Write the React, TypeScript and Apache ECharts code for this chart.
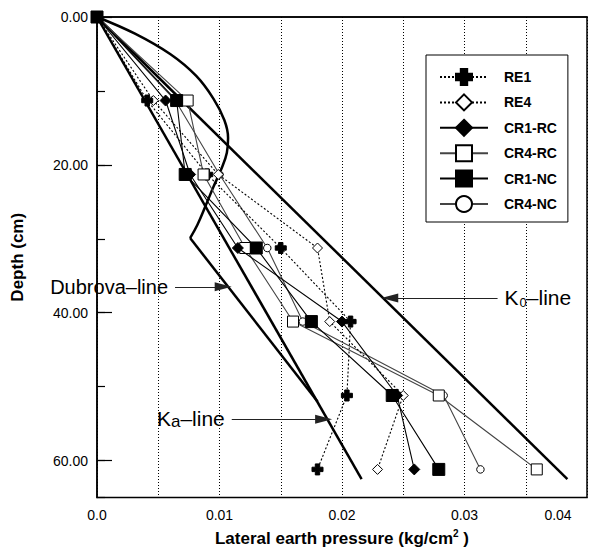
import React, { useEffect, useRef } from 'react';
import * as echarts from 'echarts';

// ---- data ----
const depths = [0, 11.3, 21.3, 31.25, 41.2, 51.2, 61.2];
const re1 = [0, 0.0041, 0.009, 0.015, 0.0207, 0.0204, 0.018];
const re4 = [0, 0.0046, 0.0099, 0.018, 0.019, 0.025, 0.0229];
const cr1rc = [0, 0.0056, 0.0076, 0.0115, 0.02, 0.0245, 0.0259];
const cr4rc = [0, 0.0074, 0.0087, 0.0121, 0.016, 0.0279, 0.0359];
const cr1nc = [0, 0.0065, 0.0072, 0.013, 0.0175, 0.0241, 0.0279];
const cr4nc = [0, 0.0064, 0.01, 0.0139, 0.0168, 0.0283, 0.0313];

const k0LineX = [0, 0.0384];
const k0LineY = [0, 62.5];
const kaLineX = [0, 0.0216];
const kaLineY = [0, 62.5];
const dubCurveX = [0, 0.0031, 0.006, 0.0081, 0.0095, 0.0104, 0.0107, 0.0106, 0.0102, 0.0095, 0.0089, 0.0082, 0.0076];
const dubCurveY = [0, 2.26, 5.05, 7.98, 11.04, 13.96, 16.36, 18.35, 20.35, 23.0, 25.4, 28.1, 29.9];
const dubStraightX = [0.0076, 0.018];
const dubStraightY = [29.9, 52.0];

const xTickLabels = ['0.0', '0.01', '0.02', '0.03', '0.04'];
const yTickLabels = ['0.00', '20.00', '40.00', '60.00'];

// annotation arrows [xStart, xEnd, depth]
const dubArrow = [0.00637, 0.0103, 36.5];
const k0Arrow = [0.0327, 0.0239, 38.0];
const kaArrow = [0.011, 0.0185, 54.4];

const FONT = 'Liberation Sans, Arial, Helvetica, sans-serif';
const PLUS = 'path://M3,0 H7 V3 H10 V7 H7 V10 H3 V7 H0 V3 H3 Z';

const zip = (xs: number[], ys: number[]) => xs.map((x, i) => [x, ys[i]]);

export default function App() {
  const ref = useRef<HTMLDivElement>(null);
  useEffect(() => {
    if (!ref.current) return;
    const chart = echarts.init(ref.current, null, { renderer: 'svg' });

    const refLine = (data: number[][], smooth: number | boolean = false) => ({
      type: 'line',
      data,
      showSymbol: false,
      symbol: 'none',
      smooth,
      clip: false,
      silent: true,
      lineStyle: { color: '#000', width: 2.5 },
      z: 1,
    });

    const dataSeries = (
      name: string,
      vals: number[],
      symbol: string,
      size: number,
      fill: string,
      lineType: any,
      lineColor: string,
      z: number
    ) => ({
      name,
      type: 'line',
      data: zip(vals, depths),
      symbol,
      symbolSize: size,
      showAllSymbol: true,
      clip: false,
      itemStyle: { color: fill, borderColor: '#000', borderWidth: 1 },
      lineStyle: { color: lineColor, width: 1.1, type: lineType },
      z,
    });

    const richStyles = {
      k: { fontSize: 21, fontFamily: FONT, color: '#000', lineHeight: 22, verticalAlign: 'top' },
      d: { fontSize: 20, fontFamily: FONT, color: '#000', lineHeight: 22 },
      s: { fontSize: 13, fontFamily: FONT, color: '#000', lineHeight: 13, padding: [12, 0, 0, 1], verticalAlign: 'bottom' },
      a: { fontSize: 17, fontFamily: FONT, color: '#000', lineHeight: 17, padding: [6, 0, 0, 0], verticalAlign: 'bottom' },
    };

    const arrowItem = (a: number[], text: string) => [
      {
        coord: [a[0], a[2]],
        label: {
          show: true,
          position: 'start',
          distance: 7,
          formatter: text,
          fontFamily: FONT,
          color: '#000',
          rich: richStyles,
        },
      },
      { coord: [a[1], a[2]] },
    ];

    chart.setOption({
      animation: false,
      backgroundColor: '#fff',
      textStyle: { fontFamily: FONT },
      grid: {
        left: 97,
        top: 17,
        right: 2,
        bottom: 47,
        show: true,
        borderColor: '#000',
        borderWidth: 1.5,
        backgroundColor: 'transparent',
      },
      legend: {
        data: ['RE1', 'RE4', 'CR1-RC', 'CR4-RC', 'CR1-NC', 'CR4-NC'],
        orient: 'vertical',
        left: 426,
        top: 55,
        padding: [13, 11, 9, 13],
        itemWidth: 48,
        itemHeight: 20,
        itemGap: 7.4,
        backgroundColor: '#fff',
        borderColor: '#000',
        borderWidth: 1,
        textStyle: { fontFamily: FONT, fontSize: 14, fontWeight: 'bold', color: '#000', padding: [0, 0, 0, 11] },
        selectedMode: false,
      },
      xAxis: {
        type: 'value',
        min: 0,
        max: 0.04,
        interval: 0.005,
        name: '{a|Lateral earth pressure (kg/cm}{s|2}{a| )}',
        nameLocation: 'middle',
        nameGap: 31,
        nameTextStyle: {
          rich: {
            a: { fontSize: 17, fontWeight: 'bold', fontFamily: FONT, color: '#000', lineHeight: 20 },
            s: { fontSize: 10, fontWeight: 'bold', fontFamily: FONT, color: '#000', lineHeight: 10, verticalAlign: 'top' },
          },
        },
        axisLine: { show: true, lineStyle: { color: '#000', width: 1.5 } },
        axisTick: { show: false },
        splitLine: { show: true, lineStyle: { color: '#000', width: 1, type: [1, 2] } },
        axisLabel: {
          margin: 10,
          fontSize: 14,
          fontFamily: FONT,
          color: '#000',
          formatter: (v: number) => {
            const k = Math.round(v * 1000);
            if (k % 10 !== 0) return '';
            const i = k / 10;
            if (i === 4) return '{r|' + xTickLabels[i] + '}';
            return xTickLabels[i];
          },
          rich: {
            r: { fontSize: 14, fontFamily: FONT, color: '#000', padding: [0, 58, 0, 0] },
          },
        },
      },
      yAxis: [
        {
          type: 'value',
          inverse: true,
          min: 0,
          max: 65,
          interval: 20,
          position: 'left',
          name: 'Depth (cm)',
          nameLocation: 'middle',
          nameGap: 71,
          nameTextStyle: { fontSize: 17, fontWeight: 'bold', fontFamily: FONT, color: '#000' },
          axisLine: { show: true, lineStyle: { color: '#000', width: 1.5 } },
          axisTick: { show: true, inside: true, length: 15, lineStyle: { color: '#000', width: 1.2 } },
          splitLine: { show: false },
          axisLabel: {
            margin: 9,
            fontSize: 14,
            fontFamily: FONT,
            color: '#000',
            showMaxLabel: false,
            formatter: (v: number) => {
              const r = Math.round(v);
              if (r % 20 !== 0) return '';
              return yTickLabels[r / 20] ?? '';
            },
          },
        },
        {
          type: 'value',
          inverse: true,
          min: 0,
          max: 65,
          interval: 10,
          position: 'left',
          axisLine: { show: false },
          axisTick: { show: true, inside: true, length: 8, lineStyle: { color: '#000', width: 1.2 } },
          splitLine: { show: false },
          axisLabel: { show: false },
        },
      ],
      series: [
        refLine(zip(k0LineX, k0LineY)),
        refLine(zip(kaLineX, kaLineY)),
        refLine(zip(dubCurveX, dubCurveY), 0.4),
        refLine(zip(dubStraightX, dubStraightY)),
        {
          type: 'line',
          data: [],
          silent: true,
          color: '#000',
          itemStyle: { color: '#000' },
          markLine: {
            silent: true,
            symbol: ['none', 'triangle'],
            symbolSize: [9, 17],
            lineStyle: { color: '#222', width: 1, type: 'solid' },
            data: [
              arrowItem(dubArrow, '{d|Dubrova–line}'),
              arrowItem(k0Arrow, '{k|K}{s|0}{k|–line}'),
              arrowItem(kaArrow, '{k|K}{a|a}{k|–line}'),
            ],
          },
        },
        dataSeries('CR4-NC', cr4nc, 'circle', 7.5, '#fff', 'solid', '#444', 3),
        dataSeries('RE4', re4, 'diamond', 10, '#fff', [2, 2], '#000', 4),
        dataSeries('RE1', re1, PLUS, 11, '#000', [2, 2], '#000', 5),
        dataSeries('CR4-RC', cr4rc, 'rect', 11, '#fff', 'solid', '#444', 6),
        dataSeries('CR1-RC', cr1rc, 'diamond', 11, '#000', 'solid', '#000', 7),
        dataSeries('CR1-NC', cr1nc, 'rect', 12, '#000', 'solid', '#000', 8),
      ],
    });
    return () => chart.dispose();
  }, []);
  return (
    <div
      ref={ref}
      style={{ position: 'fixed', left: 0, top: 0, width: 589, height: 552, background: '#fff' }}
    />
  );
}
